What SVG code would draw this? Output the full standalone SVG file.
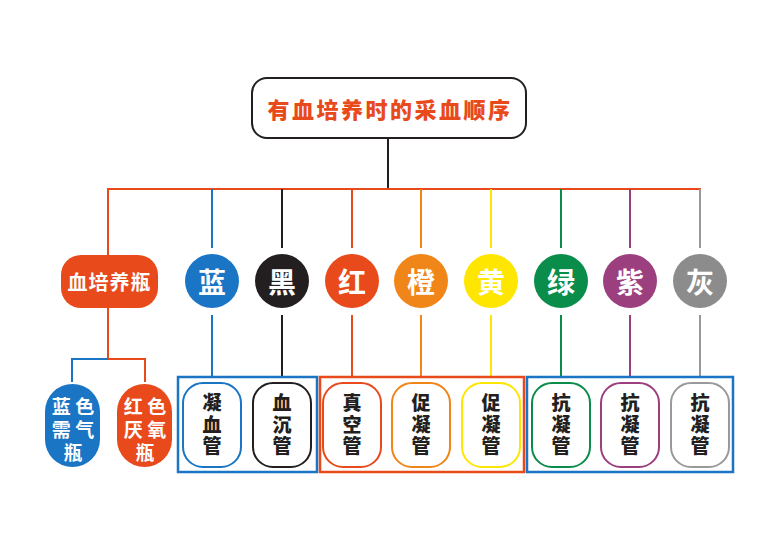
<svg xmlns="http://www.w3.org/2000/svg" width="777" height="550" viewBox="0 0 777 550">
<style>
.ln{fill:none;stroke-width:2}
.cir{stroke:none}
.ct{font-family:"Noto Sans CJK SC","Noto Sans CJK JP",sans-serif;font-weight:bold;font-size:28px;fill:#fff;text-anchor:middle;dominant-baseline:central}
.tube{fill:#fff;stroke-width:2}
.tt{font-family:"Noto Sans CJK SC","Noto Sans CJK JP",sans-serif;font-weight:900;font-size:19px;fill:#231f20;text-anchor:middle;writing-mode:vertical-rl;letter-spacing:2.5px}
.wt{font-family:"Noto Sans CJK SC","Noto Sans CJK JP",sans-serif;font-weight:bold;font-size:19px;fill:#fff;text-anchor:middle}
.grp{fill:none;stroke-width:2.5}
</style>
<rect width="777" height="550" fill="#fff"/>
<g id="connectors">
<line class="ln" x1="388" y1="138" x2="388" y2="189" stroke="#231f20"/>
<line class="ln" x1="107" y1="189" x2="701" y2="189" stroke="#e84a1b"/>
<line class="ln" x1="108" y1="189" x2="108" y2="255" stroke="#e84a1b"/>
<line class="ln" x1="212" y1="189" x2="212" y2="248" stroke="#1a75c4"/>
<line class="ln" x1="282" y1="189" x2="282" y2="248" stroke="#231f20"/>
<line class="ln" x1="352" y1="189" x2="352" y2="248" stroke="#e84a1b"/>
<line class="ln" x1="421" y1="189" x2="421" y2="248" stroke="#f08519"/>
<line class="ln" x1="491" y1="189" x2="491" y2="248" stroke="#ffe600"/>
<line class="ln" x1="561" y1="189" x2="561" y2="248" stroke="#0a8c4a"/>
<line class="ln" x1="630" y1="189" x2="630" y2="248" stroke="#9c3f7e"/>
<line class="ln" x1="700" y1="189" x2="700" y2="248" stroke="#999"/>
<line class="ln" x1="108" y1="308" x2="108" y2="359" stroke="#e84a1b"/>
<polyline class="ln" points="108,359 72,359 72,382" stroke="#1a75c4"/>
<polyline class="ln" points="108,359 145,359 145,382" stroke="#e84a1b"/>
<line class="ln" x1="212" y1="315" x2="212" y2="377" stroke="#1a75c4"/>
<line class="ln" x1="282" y1="315" x2="282" y2="377" stroke="#231f20"/>
<line class="ln" x1="352" y1="315" x2="352" y2="377" stroke="#e84a1b"/>
<line class="ln" x1="421" y1="315" x2="421" y2="377" stroke="#f08519"/>
<line class="ln" x1="491" y1="315" x2="491" y2="377" stroke="#ffe600"/>
<line class="ln" x1="561" y1="315" x2="561" y2="377" stroke="#0a8c4a"/>
<line class="ln" x1="630" y1="315" x2="630" y2="377" stroke="#9c3f7e"/>
<line class="ln" x1="700" y1="315" x2="700" y2="377" stroke="#999"/>
</g>
<g id="title">
<rect x="252" y="78" width="274" height="60" rx="15" fill="#fff" stroke="#231f20" stroke-width="2"/>
<text x="390" y="108" font-family="Noto Sans CJK SC, Noto Sans CJK JP, sans-serif" font-weight="900" font-size="22" fill="#e84a1b" text-anchor="middle" dominant-baseline="central" letter-spacing="2.5">有血培养时的采血顺序</text>
</g>
<g id="bottle">
<rect x="61" y="255" width="97" height="53" rx="20" fill="#e84a1b"/>
<text x="109.5" y="281.5" font-family="Noto Sans CJK SC, Noto Sans CJK JP, sans-serif" font-weight="bold" font-size="20" fill="#fff" text-anchor="middle" dominant-baseline="central" letter-spacing="1">血培养瓶</text>
</g>
<g id="c-blue"><circle class="cir" cx="212" cy="281" r="27" fill="#1a75c4"/><text class="ct" x="212" y="281">蓝</text></g>
<g id="c-black"><circle class="cir" cx="282" cy="281" r="27" fill="#231f20"/><text class="ct" x="282" y="281">黑</text></g>
<g id="c-red"><circle class="cir" cx="352" cy="281" r="27" fill="#e84a1b"/><text class="ct" x="352" y="281">红</text></g>
<g id="c-orange"><circle class="cir" cx="421" cy="281" r="27" fill="#f08519"/><text class="ct" x="421" y="281">橙</text></g>
<g id="c-yellow"><circle class="cir" cx="491" cy="281" r="27" fill="#ffe600"/><text class="ct" x="491" y="281">黄</text></g>
<g id="c-green"><circle class="cir" cx="561" cy="281" r="27" fill="#0a8c4a"/><text class="ct" x="561" y="281">绿</text></g>
<g id="c-purple"><circle class="cir" cx="630" cy="281" r="27" fill="#9c3f7e"/><text class="ct" x="630" y="281">紫</text></g>
<g id="c-gray"><circle class="cir" cx="700" cy="281" r="27" fill="#8c8c8c"/><text class="ct" x="700" y="281">灰</text></g>
<g id="aerobic">
<rect x="45" y="384" width="55" height="83" rx="27.5" fill="#1a75c4"/>
<text class="wt"><tspan x="73" y="414">蓝 色</tspan><tspan x="73" y="437">需 气</tspan><tspan x="73" y="460">瓶</tspan></text>
</g>
<g id="anaerobic">
<rect x="117" y="384" width="55" height="83" rx="27.5" fill="#e84a1b"/>
<text class="wt"><tspan x="145" y="414">红 色</tspan><tspan x="145" y="437">厌 氧</tspan><tspan x="145" y="460">瓶</tspan></text>
</g>
<g id="group1"><rect class="grp" x="178" y="377" width="139" height="95" stroke="#1a75c4"/></g>
<g id="group2"><rect class="grp" x="320" y="377" width="204" height="95" stroke="#e84a1b"/></g>
<g id="group3"><rect class="grp" x="527" y="377" width="206" height="95" stroke="#1a75c4"/></g>
<g id="t-blue"><rect class="tube" x="183" y="383" width="58" height="84" rx="20" stroke="#1a75c4"/><text class="tt" x="212" y="426">凝血管</text></g>
<g id="t-black"><rect class="tube" x="253" y="383" width="58" height="84" rx="20" stroke="#231f20"/><text class="tt" x="282" y="426">血沉管</text></g>
<g id="t-red"><rect class="tube" x="323" y="383" width="58" height="84" rx="20" stroke="#e84a1b"/><text class="tt" x="352" y="426">真空管</text></g>
<g id="t-orange"><rect class="tube" x="392" y="383" width="58" height="84" rx="20" stroke="#f08519"/><text class="tt" x="421" y="426">促凝管</text></g>
<g id="t-yellow"><rect class="tube" x="462" y="383" width="58" height="84" rx="20" stroke="#ffe600"/><text class="tt" x="491" y="426">促凝管</text></g>
<g id="t-green"><rect class="tube" x="532" y="383" width="58" height="84" rx="20" stroke="#0a8c4a"/><text class="tt" x="561" y="426">抗凝管</text></g>
<g id="t-purple"><rect class="tube" x="601" y="383" width="58" height="84" rx="20" stroke="#9c3f7e"/><text class="tt" x="630" y="426">抗凝管</text></g>
<g id="t-gray"><rect class="tube" x="671" y="383" width="58" height="84" rx="20" stroke="#999"/><text class="tt" x="700" y="426">抗凝管</text></g>
</svg>
